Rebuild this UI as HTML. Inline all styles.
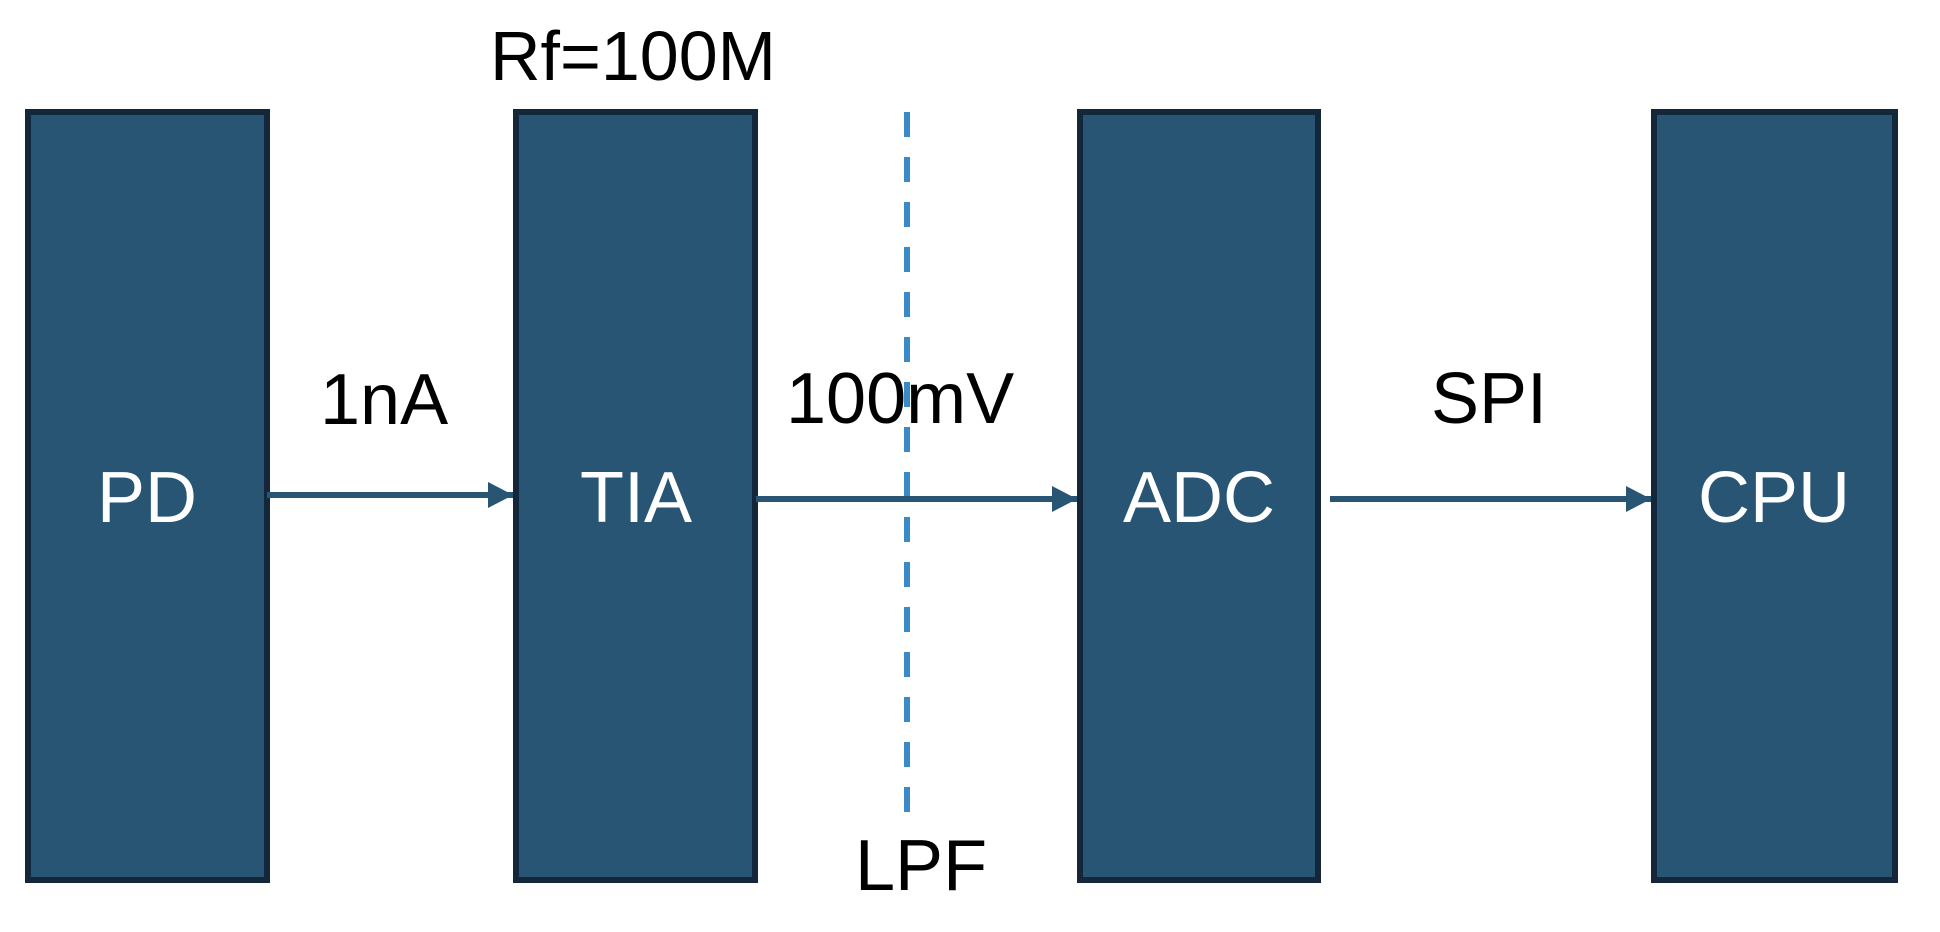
<!DOCTYPE html>
<html><head><meta charset="utf-8"><style>
html,body{margin:0;padding:0;background:#fff;width:1940px;height:932px;overflow:hidden}
svg{display:block}
text{font-family:"Liberation Sans",Arial,sans-serif}
</style></head><body>
<svg width="1940" height="932" viewBox="0 0 1940 932">
<defs>
<marker id="ah" markerWidth="25" markerHeight="26" refX="25" refY="13" orient="auto" markerUnits="userSpaceOnUse">
<path d="M0,0 L25,13 L0,26 Z" fill="#285574"/>
</marker>
</defs>
<g>
<rect x="28" y="112" width="239" height="768" fill="#285574" stroke="#13263a" stroke-width="6"/>
<text x="147" y="522" font-size="72" fill="#fff" text-anchor="middle">PD</text>
</g>
<g>
<rect x="516" y="112" width="239" height="768" fill="#285574" stroke="#13263a" stroke-width="6"/>
<text x="636" y="522" font-size="72" fill="#fff" text-anchor="middle">TIA</text>
</g>
<g>
<rect x="1080" y="112" width="238" height="768" fill="#285574" stroke="#13263a" stroke-width="6"/>
<text x="1199" y="522" font-size="72" fill="#fff" text-anchor="middle">ADC</text>
</g>
<g>
<rect x="1654" y="112" width="241" height="768" fill="#285574" stroke="#13263a" stroke-width="6"/>
<text x="1774" y="522" font-size="72" fill="#fff" text-anchor="middle">CPU</text>
</g>
<line x1="907" y1="112" x2="907" y2="812" stroke="#3a8ac8" stroke-width="6" stroke-dasharray="25 20"/>
<line x1="267" y1="495" x2="513" y2="495" stroke="#285574" stroke-width="6" marker-end="url(#ah)"/>
<line x1="756" y1="499" x2="1077" y2="499" stroke="#285574" stroke-width="6" marker-end="url(#ah)"/>
<line x1="1330" y1="499" x2="1651" y2="499" stroke="#285574" stroke-width="6" marker-end="url(#ah)"/>
<text x="490" y="80" font-size="70" fill="#000">Rf=100M</text>
<text x="320" y="424" font-size="72" fill="#000">1nA</text>
<text x="786" y="423" font-size="72" fill="#000">100mV</text>
<text x="1431" y="423" font-size="72" fill="#000">SPI</text>
<text x="855" y="890" font-size="72" fill="#000">LPF</text>
</svg>
</body></html>
